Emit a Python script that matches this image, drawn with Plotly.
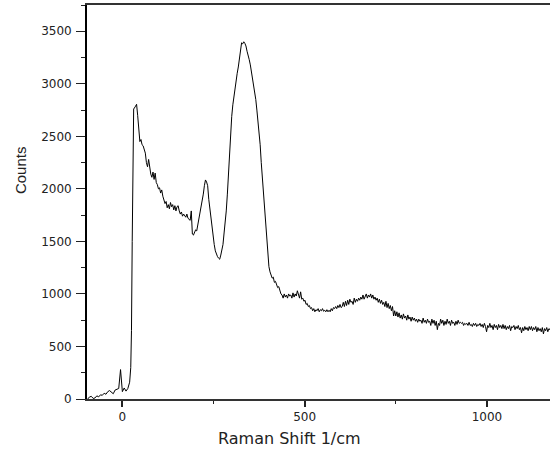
import plotly.graph_objects as go

# ---- data (Raman spectrum) ----
shift_head = [-95, -90, -85, -80, -75, -70, -65, -60, -55, -50,
              -45, -40, -35, -30, -25, -20, -15, -10, -5, -2,
              0, 5, 10, 15, 20, 23, 25, 27, 29, 31, 35, 39]
counts_head = [0, 20, 25, 5, 10, 30, 20, 40, 35, 55,
               45, 70, 80, 60, 50, 85, 95, 100, 280, 100,
               70, 105, 75, 100, 160, 300, 650, 1500, 2300, 2760, 2780, 2805]

# sampling grid of the dense part: 42, 45, ..., 1179 (3 cm-1 spacing)
shift_dense = list(range(42, 1180, 3))
counts_dense = [
    2700, 2580, 2450, 2470, 2420, 2410, 2370, 2340, 2250, 2210,   # 42
    2280, 2190, 2140, 2110, 2160, 2090, 2150, 2060, 2040, 2000,   # 72
    2010, 1960, 1990, 1930, 1890, 1860, 1880, 1820, 1850, 1810,   # 102
    1870, 1830, 1850, 1800, 1840, 1790, 1830, 1840, 1790, 1760,   # 132
    1780, 1740, 1760, 1750, 1730, 1760, 1720, 1710, 1700, 1790,   # 162
    1570, 1560, 1590, 1610, 1600, 1660, 1710, 1750, 1820, 1890,   # 192
    1950, 2030, 2085, 2065, 2030, 1900, 1810, 1710, 1610, 1540,   # 222
    1470, 1410, 1370, 1355, 1340, 1330, 1370, 1410, 1470, 1580,   # 252
    1680, 1790, 1950, 2150, 2350, 2540, 2690, 2800, 2890, 2970,   # 282
    3040, 3100, 3160, 3230, 3300, 3390, 3380, 3400, 3385, 3360,   # 312
    3310, 3280, 3230, 3180, 3120, 3070, 3010, 2940, 2850, 2750,   # 342
    2650, 2550, 2420, 2250, 2100, 1940, 1770, 1610, 1480, 1360,   # 372
    1260, 1210, 1180, 1150, 1160, 1110, 1120, 1090, 1060, 1070,   # 402
    1030, 1000, 990, 960, 1000, 970, 990, 960, 1000, 980,         # 432
    990, 960, 1010, 970, 1000, 980, 1030, 990, 960, 1020,         # 462
    950, 960, 930, 940, 900, 910, 880, 890, 860, 870,             # 492
    840, 860, 830, 850, 840, 860, 830, 850, 840, 860,             # 522
    835, 845, 830, 850, 830, 845, 830, 860, 840, 870,             # 552
    860, 880, 860, 890, 870, 900, 870, 880, 920, 880,             # 582
    930, 890, 940, 900, 950, 920, 930, 900, 960, 920,             # 612
    950, 930, 960, 940, 970, 950, 990, 950, 980, 1000,            # 642
    960, 990, 970, 1000, 960, 990, 950, 970, 940, 960,            # 672
    920, 950, 910, 940, 900, 920, 880, 930, 870, 910,             # 702
    860, 890, 840, 880, 790, 840, 790, 830, 780, 820,             # 732
    770, 800, 760, 810, 770, 790, 750, 800, 760, 780,             # 762
    740, 780, 750, 770, 740, 760, 730, 760, 740, 750,             # 792
    720, 770, 730, 750, 720, 760, 730, 740, 700, 760,             # 822
    720, 750, 700, 740, 660, 720, 700, 760, 720, 750,             # 852
    700, 740, 710, 760, 720, 740, 700, 750, 720, 730,             # 882
    700, 740, 710, 750, 720, 730, 720, 730, 700, 720,             # 912
    710, 720, 700, 730, 700, 710, 690, 720, 700, 720,             # 942
    690, 710, 700, 720, 690, 710, 680, 720, 690, 640,             # 972
    700, 680, 720, 680, 700, 660, 710, 680, 700, 660,             # 1002
    710, 680, 700, 670, 710, 670, 700, 660, 690, 670,             # 1032
    700, 650, 690, 680, 700, 660, 690, 670, 700, 660,             # 1062
    680, 630, 680, 650, 690, 660, 680, 650, 690, 660,             # 1092
    690, 650, 680, 660, 690, 640, 680, 650, 670, 640,             # 1122
    680, 620, 670, 650, 680, 640, 670, 660, 680, 670,             # 1152
]
assert len(shift_dense) == len(counts_dense)

raman_shift = shift_head + shift_dense
counts = counts_head + counts_dense

x_ticks = [0, 500, 1000]
y_ticks = [0, 500, 1000, 1500, 2000, 2500, 3000, 3500]
x_title = "Raman Shift 1/cm"
y_title = "Counts"

fig = go.Figure()
fig.add_trace(go.Scatter(x=raman_shift, y=counts, mode="lines",
                         line=dict(color="black", width=1.0),
                         showlegend=False, hoverinfo="skip"))

tick_font = dict(family="DejaVu Sans, Liberation Sans, Arial", size=12, color="#222")

fig.update_layout(
    width=550, height=452,
    margin=dict(l=87, r=0, t=5, b=53),
    paper_bgcolor="white", plot_bgcolor="white",
    xaxis=dict(range=[-97, 1173], tickvals=x_ticks, ticktext=[str(v) for v in x_ticks],
               showgrid=False, zeroline=False, showline=True, linecolor="#333",
               linewidth=1.5, mirror=True, ticks="outside", ticklen=6, tickwidth=1.5,
               tickcolor="#222", tickfont=tick_font,
               minor=dict(dtick=250, tick0=0, ticks="outside", ticklen=3, tickwidth=1.2,
                          tickcolor="#222", showgrid=False)),
    yaxis=dict(range=[0, 3750], tickvals=y_ticks, ticktext=[str(v) for v in y_ticks],
               showgrid=False, zeroline=False, showline=True, linecolor="black",
               linewidth=1.8, mirror=False, ticks="outside", ticklen=9, tickwidth=1.2,
               tickcolor="#222", tickfont=tick_font, ticklabelstandoff=2,
               minor=dict(dtick=250, tick0=0, ticks="outside", ticklen=4, tickwidth=1.2,
                          tickcolor="#222", showgrid=False)),
    annotations=[
        dict(text=x_title, xref="paper", yref="paper", x=0.4384, y=-0.1015,
             xanchor="center", yanchor="middle", showarrow=False,
             font=dict(family="DejaVu Sans, Liberation Sans, Arial", size=16, color="#222")),
        dict(text=y_title, xref="paper", yref="paper", x=-0.1447, y=0.581,
             xanchor="center", yanchor="middle", showarrow=False, textangle=-90,
             font=dict(family="Liberation Sans, Arial", size=15, color="#222")),
    ],
)

fig.write_html("out.html")
